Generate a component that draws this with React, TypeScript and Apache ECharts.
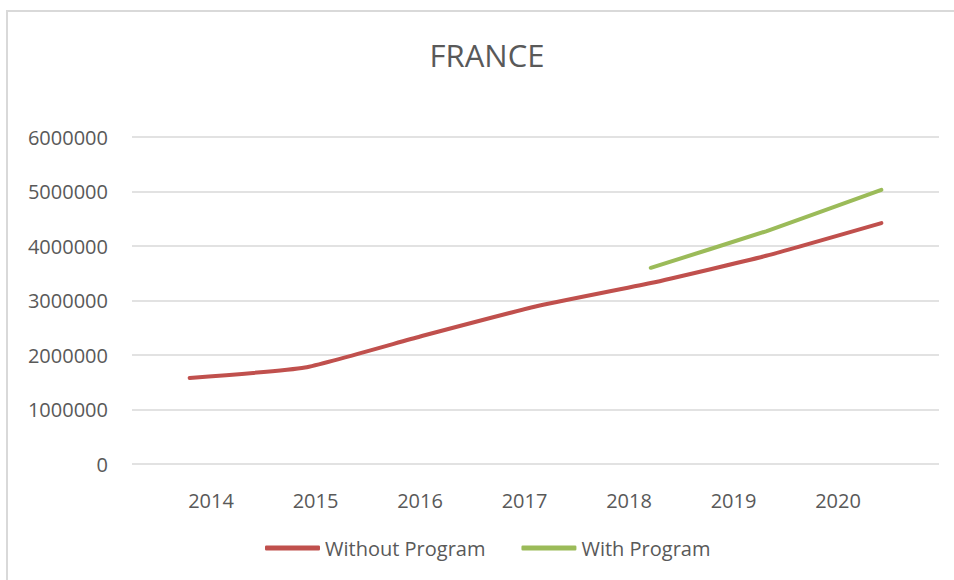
import React, { useEffect, useRef } from "react";
import * as echarts from "echarts";

const years = ["2014", "2015", "2016", "2017", "2018", "2019", "2020"];
const withoutProgram = [1580000, 1770000, 2340000, 2890000, 3320000, 3820000, 4420000];
const withProgram = [null, null, null, null, 3600000, 4270000, 5030000];
const yTicks = { min: 0, max: 6000000, interval: 1000000 };

const FONT = "'Open Sans', 'Liberation Sans', sans-serif";
const TXT = "#595959";

export default function App() {
  const ref = useRef<HTMLDivElement>(null);
  useEffect(() => {
    if (!ref.current) return;
    const chart = echarts.init(ref.current, null, { renderer: "svg" });
    chart.setOption({
      animation: false,
      backgroundColor: "#ffffff",
      title: {
        text: "FRANCE",
        left: 482,
        textAlign: "center",
        top: 34,
        textStyle: { fontFamily: FONT, fontSize: 31, fontWeight: "normal", color: TXT },
      },
      legend: {
        left: 260,
        top: 533,
        itemWidth: 55,
        itemHeight: 5,
        itemGap: 36,
        icon: "roundRect",
        textStyle: { fontFamily: FONT, fontSize: 20, color: TXT },
        data: ["Without Program", "With Program"],
      },
      graphic: [
        {
          type: "rect",
          shape: { x: 7, y: 11, width: 1200, height: 1200 },
          style: { fill: "none", stroke: "#d9d9d9", lineWidth: 2 },
          silent: true,
          z: -1,
        },
      ],
      grid: [
        { left: 132, right: 15, top: 137, bottom: 116 },
        { left: 158.75, right: 63.75, top: 137, bottom: 116 },
      ],
      xAxis: [
        {
          type: "category",
          gridIndex: 0,
          data: years,
          boundaryGap: true,
          axisLine: { show: false },
          axisTick: { show: false },
          axisLabel: { show: false },
          splitLine: { show: false },
        },
        {
          type: "category",
          gridIndex: 1,
          data: years,
          boundaryGap: true,
          axisLine: { show: false },
          axisTick: { show: false },
          splitLine: { show: false },
          axisLabel: { margin: 26, fontFamily: FONT, fontSize: 20, color: TXT },
        },
      ],
      yAxis: [
        {
          type: "value",
          gridIndex: 0,
          min: yTicks.min,
          max: yTicks.max,
          interval: yTicks.interval,
          axisLine: { show: false },
          axisTick: { show: false },
          axisLabel: {
            margin: 24,
            fontFamily: FONT,
            fontSize: 20,
            color: TXT,
            formatter: (v: number) => String(v),
          },
          splitLine: { lineStyle: { color: "#d9d9d9", width: 1.5 } },
        },
        { type: "value", gridIndex: 1, show: false, min: 0, max: 1 },
      ],
      series: [
        {
          name: "Without Program",
          type: "line",
          xAxisIndex: 0,
          yAxisIndex: 0,
          data: withoutProgram,
          showSymbol: false,
          smooth: 0.15,
          itemStyle: { color: "#c0504d" },
          lineStyle: { color: "#c0504d", width: 4, cap: "round" },
        },
        {
          name: "With Program",
          type: "line",
          xAxisIndex: 0,
          yAxisIndex: 0,
          data: withProgram,
          showSymbol: false,
          smooth: 0.15,
          itemStyle: { color: "#9bbb59" },
          lineStyle: { color: "#9bbb59", width: 4, cap: "round" },
        },
      ],
    });
    return () => chart.dispose();
  }, []);
  return (
    <div
      ref={ref}
      style={{ position: "fixed", left: 0, top: 0, width: 954, height: 580 }}
    />
  );
}
